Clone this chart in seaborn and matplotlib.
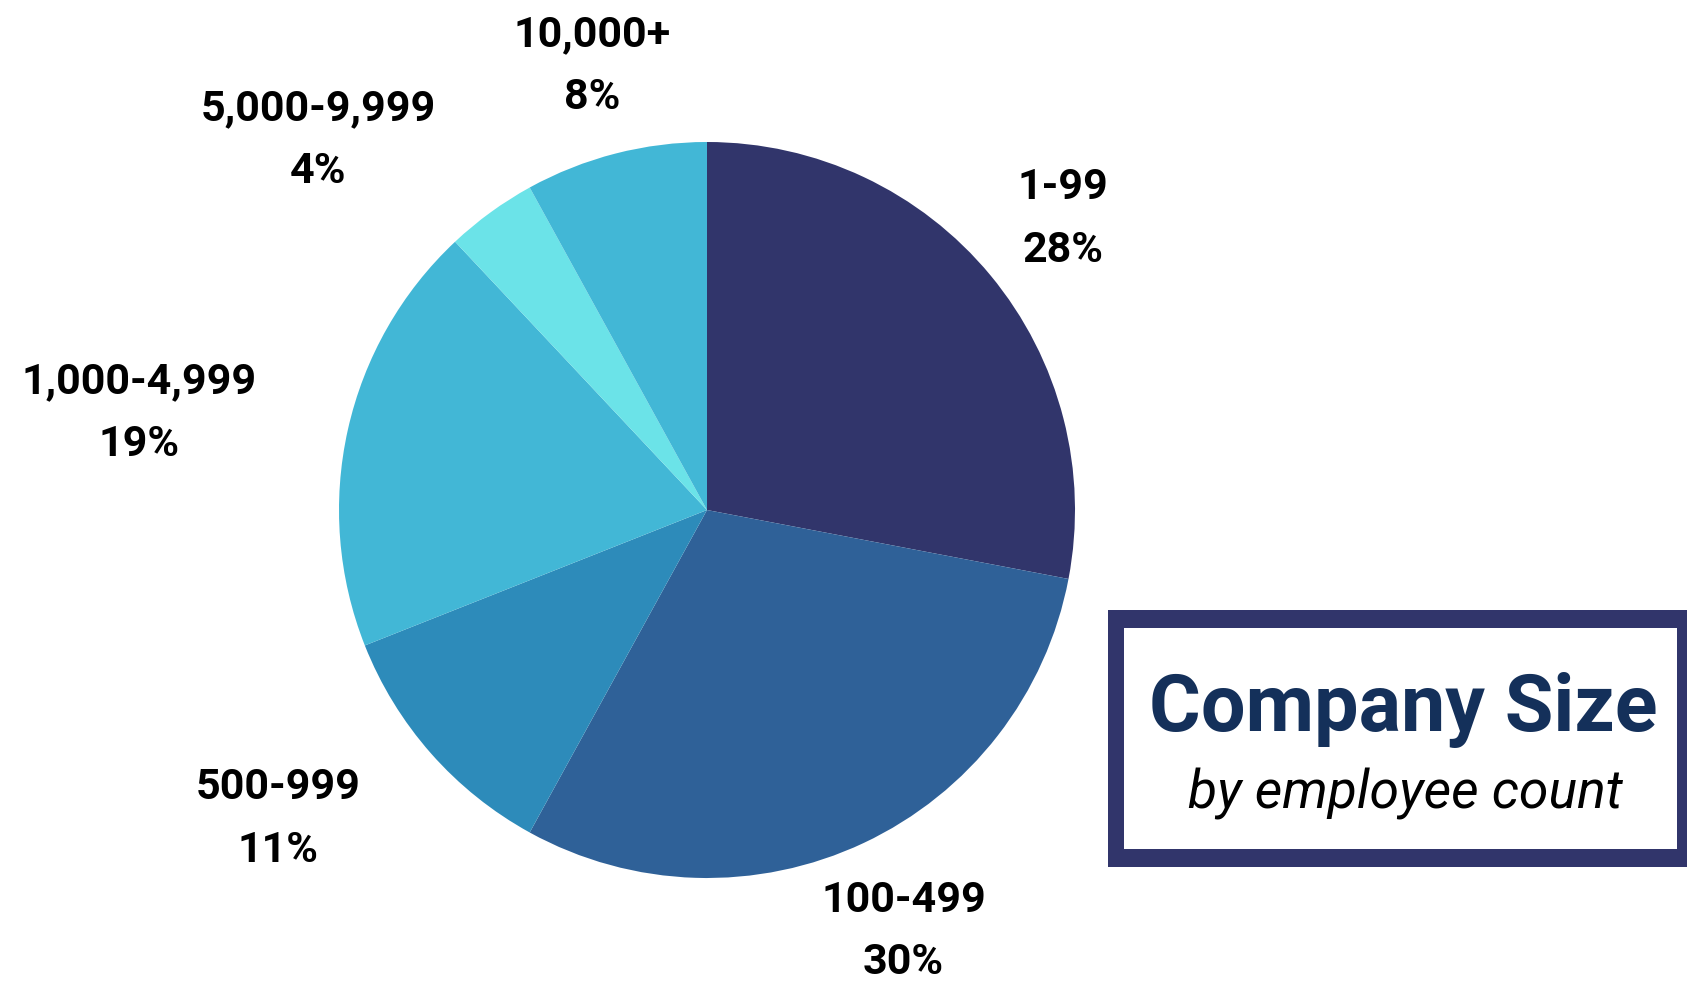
import numpy as np
import matplotlib
matplotlib.use("Agg")
import matplotlib.pyplot as plt
from matplotlib.patches import Rectangle
import seaborn as sns

# Share of companies by employee count
categories = ["1-99", "100-499", "500-999", "1,000-4,999", "5,000-9,999", "10,000+"]
shares = [28, 30, 11, 19, 4, 8]
colors = ["#31356B", "#2F6198", "#2D8BBA", "#42B7D6", "#6BE3E8", "#42B7D6"]

title = "Company Size"
subtitle = "by employee count"

sns.set_theme(style="white")
plt.rcParams["font.family"] = ["Roboto", "DejaVu Sans"]

W, H = 1687, 982
fig = plt.figure(figsize=(W / 100, H / 100), dpi=100)
fig.patch.set_facecolor("white")

# pie axes: centre (707, 510) px, radius 368 px
cx, cy, r = 707, 510, 368
ax = fig.add_axes([(cx - r) / W, 1 - (cy + r) / H, 2 * r / W, 2 * r / H])

labels = [f"{c}\n{v}%" for c, v in zip(categories, shares)]
wedges, texts = ax.pie(
    shares,
    colors=colors,
    startangle=90,
    counterclock=False,
    radius=1,
    labels=labels,
    labeldistance=1.255,
    wedgeprops=dict(linewidth=0),
    textprops=dict(fontsize=31, fontweight="bold", color="black", linespacing=1.68),
)
ax.set_xlim(-1, 1)
ax.set_ylim(-1, 1)
ax.set_aspect("equal")
ax.axis("off")

for w, t in zip(wedges, texts):
    ang = np.deg2rad((w.theta1 + w.theta2) / 2)
    t.set_ha("right" if np.cos(ang) < -0.5 else "center")
    t.set_va("center")
    t.set_multialignment("center")
    t.set_clip_on(False)
    # nudge the two-line labels slightly downwards
    x, y = t.get_position()
    t.set_position((x, y - 0.01))

# framed title box at the lower right
fig.add_artist(Rectangle((1108 / W, 1 - 867 / H), (W - 1108 + 20) / W, (867 - 610) / H,
                         transform=fig.transFigure, facecolor="#31356B", edgecolor="none"))
fig.add_artist(Rectangle((1124 / W, 1 - 849 / H), (1677 - 1124) / W, (849 - 628) / H,
                         transform=fig.transFigure, facecolor="white", edgecolor="none"))

fig.text(1403 / W, 1 - 731 / H, title, ha="center", va="baseline",
         fontsize=57, fontweight="bold", color="#14305A")
fig.text(1405 / W, 1 - 809 / H, subtitle, ha="center", va="baseline",
         fontsize=38.5, fontstyle="italic", fontweight="normal", color="black")

fig.savefig("out.png", dpi=100, facecolor="white")
